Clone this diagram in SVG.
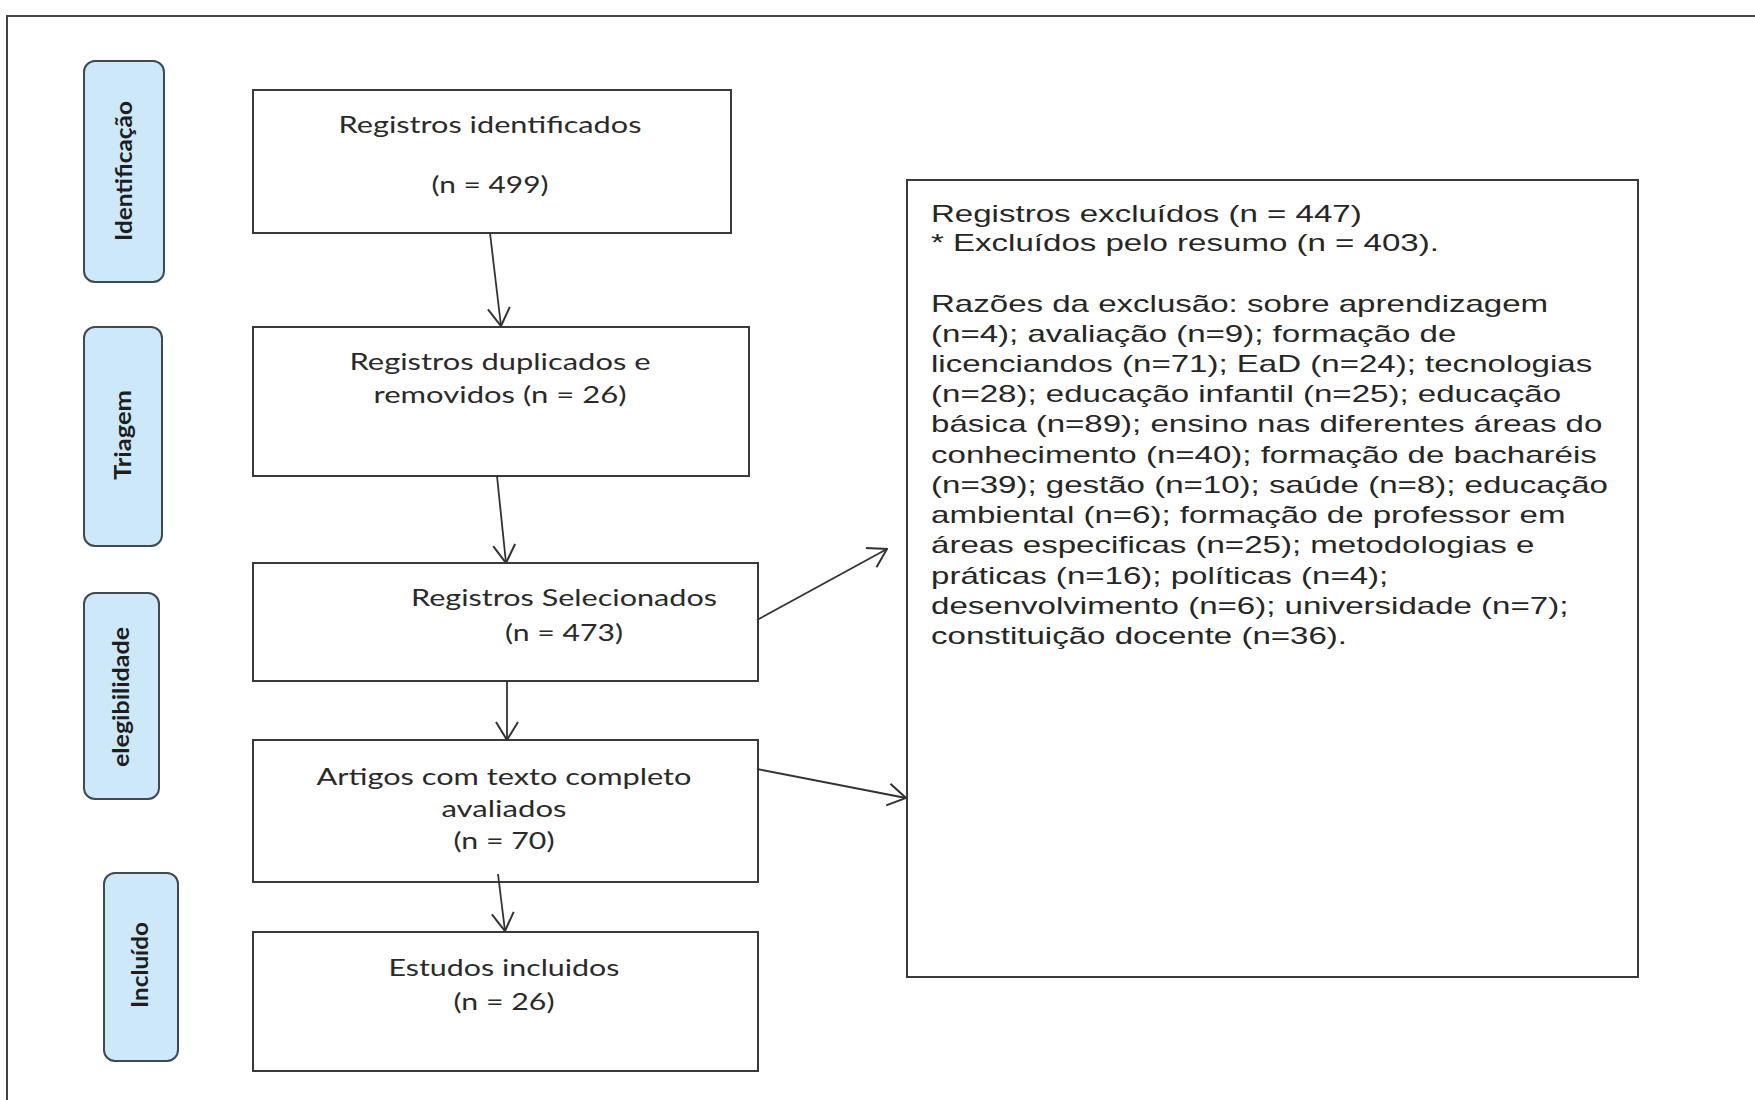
<svg xmlns="http://www.w3.org/2000/svg" width="1755" height="1100" viewBox="0 0 1755 1100">
<defs>
<style>
.frame{fill:none;stroke:#444;stroke-width:2}
.box{fill:#fff;stroke:#3a3a3a;stroke-width:2}
.lab{fill:#cde8f8;stroke:#3f4a52;stroke-width:2}
.bt{font-family:Lato,"Open Sans",sans-serif;font-size:24px;fill:#2a2a2a;text-anchor:middle}
.lt{font-family:Lato,"Open Sans",sans-serif;font-size:23px;font-weight:bold;fill:#1e1e1e;text-anchor:middle;dominant-baseline:central}
.rt{font-family:"Liberation Sans",Arial,sans-serif;font-size:24px;fill:#262626}
.con{fill:none;stroke:#333;stroke-width:1.8}
</style>
<marker id="arr" markerUnits="userSpaceOnUse" viewBox="0 0 20 26" refX="19" refY="13" markerWidth="20" markerHeight="26" orient="auto">
<path d="M1,2 L19,13 L1,24" fill="none" stroke="#333" stroke-width="2"/>
</marker>
</defs>
<rect width="1755" height="1100" fill="#fff"/>
<path class="frame" d="M7,1100 L7,16 L1755,16"/>

<g id="label-identificacao">
<rect class="lab" x="84" y="61" width="80" height="221" rx="11"/>
<text class="lt" transform="translate(123,171) rotate(-90)" textLength="140" lengthAdjust="spacingAndGlyphs">Identificação</text>
</g>
<g id="label-triagem">
<rect class="lab" x="84" y="327" width="78" height="219" rx="11"/>
<text class="lt" transform="translate(122,435) rotate(-90)" textLength="90" lengthAdjust="spacingAndGlyphs">Triagem</text>
</g>
<g id="label-elegibilidade">
<rect class="lab" x="84" y="593" width="75" height="206" rx="11"/>
<text class="lt" transform="translate(120,697) rotate(-90)" textLength="140" lengthAdjust="spacingAndGlyphs">elegibilidade</text>
</g>
<g id="label-incluido">
<rect class="lab" x="104" y="873" width="74" height="188" rx="11"/>
<text class="lt" transform="translate(139,965) rotate(-90)" textLength="86" lengthAdjust="spacingAndGlyphs">Incluído</text>
</g>

<g id="box-identificados">
<rect class="box" x="253" y="90" width="478" height="143"/>
<text class="bt" x="490" y="133" textLength="303" lengthAdjust="spacingAndGlyphs">Registros identificados</text>
<text class="bt" x="490" y="193" textLength="117" lengthAdjust="spacingAndGlyphs">(n = 499)</text>
</g>
<g id="box-duplicados">
<rect class="box" x="253" y="327" width="496" height="149"/>
<text class="bt" x="500" y="370" textLength="301" lengthAdjust="spacingAndGlyphs">Registros duplicados e</text>
<text class="bt" x="500" y="403" textLength="253" lengthAdjust="spacingAndGlyphs">removidos (n = 26)</text>
</g>
<g id="box-selecionados">
<rect class="box" x="253" y="563" width="505" height="118"/>
<text class="bt" x="564" y="606" textLength="306" lengthAdjust="spacingAndGlyphs">Registros Selecionados</text>
<text class="bt" x="564" y="641" textLength="118" lengthAdjust="spacingAndGlyphs">(n = 473)</text>
</g>
<g id="box-artigos">
<rect class="box" x="253" y="740" width="505" height="142"/>
<text class="bt" x="504" y="785" textLength="375" lengthAdjust="spacingAndGlyphs">Artigos com texto completo</text>
<text class="bt" x="504" y="817" textLength="125" lengthAdjust="spacingAndGlyphs">avaliados</text>
<text class="bt" x="504" y="849" textLength="101" lengthAdjust="spacingAndGlyphs">(n = 70)</text>
</g>
<g id="box-incluidos">
<rect class="box" x="253" y="932" width="505" height="139"/>
<text class="bt" x="504" y="976" textLength="231" lengthAdjust="spacingAndGlyphs">Estudos incluidos</text>
<text class="bt" x="504" y="1010" textLength="101" lengthAdjust="spacingAndGlyphs">(n = 26)</text>
</g>

<g id="box-excluidos">
<rect class="box" x="907" y="180" width="731" height="797"/>
<g transform="translate(931,0) scale(1.377,1)">
<text class="rt" x="0" y="222">Registros excluídos (n = 447)</text>
<text class="rt" x="0" y="251">* Excluídos pelo resumo (n = 403).</text>
<text class="rt" x="0" y="312">Razões da exclusão: sobre aprendizagem</text>
<text class="rt" x="0" y="342">(n=4); avaliação (n=9); formação de</text>
<text class="rt" x="0" y="372">licenciandos (n=71); EaD (n=24); tecnologias</text>
<text class="rt" x="0" y="402">(n=28); educação infantil (n=25); educação</text>
<text class="rt" x="0" y="432">básica (n=89); ensino nas diferentes áreas do</text>
<text class="rt" x="0" y="463">conhecimento (n=40); formação de bacharéis</text>
<text class="rt" x="0" y="493">(n=39); gestão (n=10); saúde (n=8); educação</text>
<text class="rt" x="0" y="523">ambiental (n=6); formação de professor em</text>
<text class="rt" x="0" y="553">áreas especificas (n=25); metodologias e</text>
<text class="rt" x="0" y="584">práticas (n=16); políticas (n=4);</text>
<text class="rt" x="0" y="614">desenvolvimento (n=6); universidade (n=7);</text>
<text class="rt" x="0" y="644">constituição docente (n=36).</text>
</g>
</g>

<g id="connectors">
<line class="con" x1="490" y1="233" x2="501" y2="326" marker-end="url(#arr)"/>
<line class="con" x1="497" y1="476" x2="506" y2="563" marker-end="url(#arr)"/>
<line class="con" x1="507" y1="681" x2="507" y2="740" marker-end="url(#arr)"/>
<line class="con" x1="498" y1="874" x2="505" y2="931" marker-end="url(#arr)"/>
<line class="con" x1="757" y1="620" x2="887" y2="549" marker-end="url(#arr)"/>
<line class="con" x1="757" y1="769" x2="906" y2="798" marker-end="url(#arr)"/>
</g>
</svg>
